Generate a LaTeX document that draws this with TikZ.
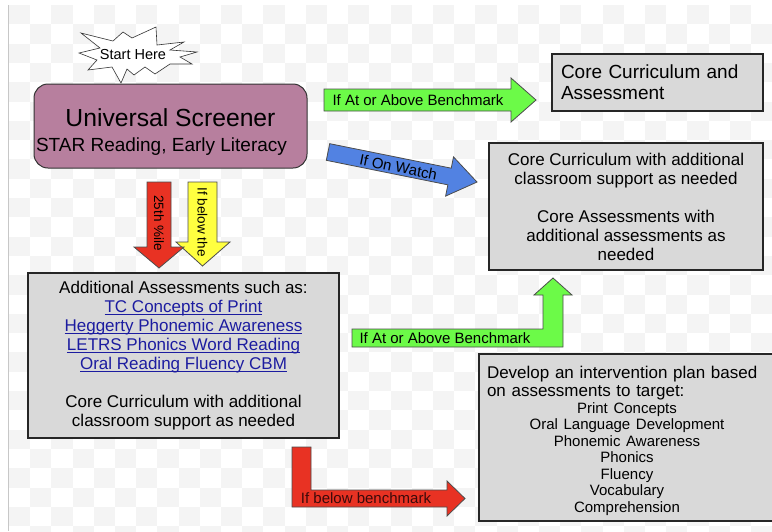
\documentclass[tikz,border=0pt]{standalone}
\usepackage{fontspec}
\setmainfont{Liberation Sans}
\usetikzlibrary{positioning}

\definecolor{screenmauve}{RGB}{183,127,158}
\definecolor{boxgray}{RGB}{217,217,217}
\definecolor{arrowgreen}{RGB}{108,250,72}
\definecolor{arrowred}{RGB}{232,50,35}
\definecolor{arrowyellow}{RGB}{255,255,64}
\definecolor{watchblue}{RGB}{82,130,226}
\definecolor{linkblue}{RGB}{28,28,160}
\definecolor{darkredtext}{RGB}{60,10,10}
\definecolor{checkgray}{RGB}{244,244,244}

\newcommand{\fsz}[2]{\fontsize{#1}{#2}\selectfont}
\newcommand{\weblink}[1]{\textcolor{linkblue}{\underline{\smash{#1}}}}

\tikzset{
    box/.style = {
        draw=black!85,
        fill=boxgray,
        shape=rectangle,
        line width=1.2pt,
        inner sep=0pt
    },
    screener/.style = {
        draw=black!80,
        fill=screenmauve,
        shape=rectangle,
        rounded corners=14pt,
        line width=1pt,
        inner sep=0pt,
        minimum width=273pt,
        minimum height=84pt,
        align=center
    },
    startstar/.style = {
        draw=black!80,
        fill=white,
        line width=0.6pt,
        line join=miter
    },
    blockarrow/.style = {
        draw=black!70,
        line width=0.8pt,
        line join=miter
    },
    arrowtext/.style = {
        inner sep=0pt,
        font=\fsz{15}{17}
    },
}

\begin{document}
\begin{tikzpicture}[x=1pt,y=-1pt]
    \useasboundingbox (0,0) rectangle (772,531);

    % transparency checkerboard behind everything
    \foreach \j in {0,...,27} {
        \pgfmathtruncatemacro\st{mod(\j,2)}
        \foreach \i in {0,2,...,36}
            \fill[checkgray] ({9+21.2*(\i+\st)},{5+19.3*\j}) rectangle ++(21.2,19.3);
    }
    \draw[black!22, line width=1.2pt] (8.5,5) -- (8.5,531);

    \node[screener, font=\fsz{19}{25}] (screener) at (170.5,126) {{\fsz{24.7}{25}\rule{0pt}{30pt}Universal Screener}\\STAR Reading, Early Literacy\hspace*{18pt}};

    % start burst
    \path[startstar] (81,33) -- (113,41) -- (123,32) -- (132,38) -- (156,27) -- (157,45) -- (184,42) -- (170,50) -- (197,52) -- (180,57) -- (192,64) -- (170,64) -- (155,74) -- (145,67) -- (134,75) -- (127,69) -- (121,83) -- (112,67) -- (88,70) -- (97,60) -- (79,53) -- (100,48) -- cycle;
    \node[inner sep=0pt, font=\fsz{14.5}{16}] (start) at (133,55) {Start Here};

    \node[box, text width=193pt, minimum width=211pt, minimum height=57pt, align=left, font=\fsz{19}{21}] (core) at (657.5,82.5) {Core Curriculum and\\Assessment};
    \node[box, minimum width=274pt, minimum height=127pt, align=center, font=\fsz{17}{19}] (watchbox) at (626,206.5) {Core Curriculum with additional\\classroom support as needed\\[19pt]Core Assessments with\\additional assessments as\\needed};
    \node[box, minimum width=311pt, minimum height=165pt, align=center, font=\fsz{17}{19}] (assess) at (183.5,355.5) {Additional Assessments such as:\\\weblink{TC Concepts of Print}\\\weblink{Heggerty Phonemic Awareness}\\\weblink{LETRS Phonics Word Reading}\\\weblink{Oral Reading Fluency CBM}\\[19pt]Core Curriculum with additional\\classroom support as needed};
    \node[box, text width=280pt, minimum width=296pt, minimum height=167pt, align=left, font=\fsz{17}{18.5}] (plan) at (627,437.5) {\rule{0pt}{19pt}Develop an intervention plan based\\on assessments to target:\par{\centering\fsz{15}{16.5}Print Concepts\\Oral Language Development\\Phonemic Awareness\\Phonics\\Fluency\\Vocabulary\\Comprehension\par}};

    % screener -> core
    \path[blockarrow, fill=arrowgreen] (324,89) -- (511,89) -- (511,78) -- (536,100) -- (511,122) -- (511,111) -- (324,111) -- cycle;
    \node[arrowtext] (abovetxt) at (418,100) {If At or Above Benchmark};

    % screener -> watchbox
    \begin{scope}[shift={(328,152)}, rotate=-11.4]
        \path[blockarrow, fill=watchblue] (0,-8.5) -- (124,-8.5) -- (124,-20) -- (152,0) -- (124,20) -- (124,8.5) -- (0,8.5) -- cycle;
        \node[arrowtext, rotate=-11.4] (watchtxt) at (72,1) {If On Watch};
    \end{scope}

    % screener -> assess
    \path[blockarrow, fill=arrowyellow] (188,182) -- (217,182) -- (217,242) -- (230,242) -- (202.5,266) -- (176,242) -- (188,242) -- cycle;
    \node[arrowtext, rotate=-90, font=\fsz{13.5}{15}] (belowtxt) at (202.5,222) {If below the};
    \path[blockarrow, fill=arrowred] (147,182) -- (171,182) -- (171,247) -- (184,247) -- (159,268) -- (134,247) -- (147,247) -- cycle;
    \node[arrowtext, rotate=-90, font=\fsz{13.5}{15}] (pctltxt) at (159,223) {25th \%ile};

    % assess -> watchbox
    \path[blockarrow, fill=arrowgreen] (352,329) -- (543,329) -- (543,295) -- (534,295) -- (553,278) -- (572,295) -- (563,295) -- (563,347) -- (352,347) -- cycle;
    \node[arrowtext] (backtxt) at (445,338) {If At or Above Benchmark};

    % assess -> plan
    \path[blockarrow, fill=arrowred] (292,447) -- (311,447) -- (311,490) -- (447,490) -- (447,481) -- (465,498.5) -- (447,516) -- (447,507) -- (292,507) -- cycle;
    \node[arrowtext, text=darkredtext] (plantxt) at (366,498) {If below benchmark};
\end{tikzpicture}
\end{document}
